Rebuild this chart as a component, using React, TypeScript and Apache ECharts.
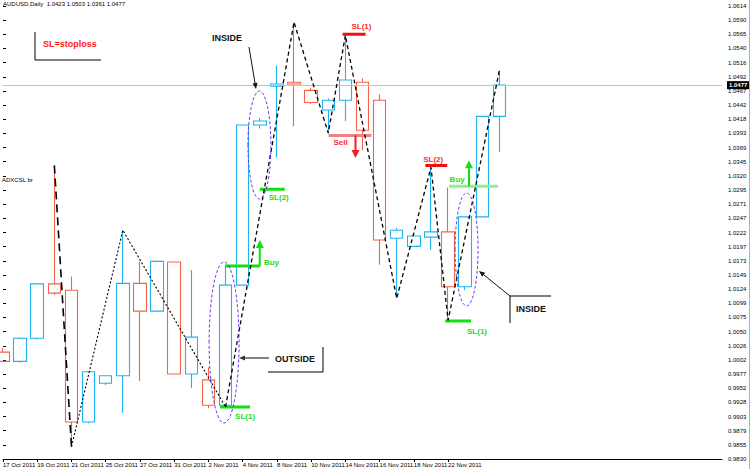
import React, { useEffect, useRef } from 'react';
import * as echarts from 'echarts';

// ---------- DATA ----------
const dates = [
  '17 Oct 2011', '18 Oct 2011', '19 Oct 2011', '20 Oct 2011', '21 Oct 2011',
  '24 Oct 2011', '25 Oct 2011', '26 Oct 2011', '27 Oct 2011', '28 Oct 2011',
  '31 Oct 2011', '1 Nov 2011', '2 Nov 2011', '3 Nov 2011', '4 Nov 2011',
  '7 Nov 2011', '8 Nov 2011', '9 Nov 2011', '10 Nov 2011', '11 Nov 2011',
  '14 Nov 2011', '15 Nov 2011', '16 Nov 2011', '17 Nov 2011', '18 Nov 2011',
  '21 Nov 2011', '22 Nov 2011', '23 Nov 2011', '24 Nov 2011', '25 Nov 2011',
];
const emptySlots = ['', '', '', '', '', '', '', '', '', '', '', '', ''];
const categories = [...dates, ...emptySlots];

// [open, close, low, high]
const candles = [
  [1.0015, 0.9999, 0.9998, 1.0022],
  [0.9999, 1.0039, 0.9997, 1.0041],
  [1.0039, 1.0133, 1.0037, 1.0133],
  [1.0133, 1.0117, 1.0114, 1.0338],
  [1.0122, 0.9894, 0.9851, 1.0146],
  [0.9894, 0.9981, 0.9892, 0.9981],
  [0.9961, 0.9974, 0.9958, 0.9974],
  [0.9974, 1.0134, 0.991, 1.0226],
  [1.0134, 1.0086, 0.9965, 1.0172],
  [1.0086, 1.0172, 1.0086, 1.0172],
  [1.0171, 0.9977, 0.9977, 1.0171],
  [0.9977, 1.0041, 0.9953, 1.0157],
  [0.9967, 0.9923, 0.9918, 0.9989],
  [0.9923, 1.0131, 0.992, 1.0164],
  [1.0131, 1.0408, 1.0131, 1.0408],
  [1.0408, 1.0415, 1.0402, 1.042],
  [1.0475, 1.0479, 1.0352, 1.0511],
  [1.0482, 1.0479, 1.0406, 1.0586],
  [1.0468, 1.0447, 1.0444, 1.0472],
  [1.0434, 1.0451, 1.0394, 1.0454],
  [1.0451, 1.0486, 1.0415, 1.0563],
  [1.0482, 1.0399, 1.0364, 1.0489],
  [1.0451, 1.0209, 1.0166, 1.0461],
  [1.0212, 1.0226, 1.0108, 1.023],
  [1.0198, 1.0216, 1.0198, 1.0216],
  [1.0214, 1.0223, 1.0192, 1.0335],
  [1.0223, 1.0128, 1.007, 1.03],
  [1.0128, 1.0249, 1.0122, 1.0249],
  [1.0249, 1.0423, 1.0249, 1.0423],
  [1.0423, 1.0477, 1.0361, 1.0503],
];

// zigzag pivots: [bar index, price]
const zigzagLong = [[3, 1.0338], [4, 0.9851]];
const zigzagDotted = [[4, 0.9851], [7, 1.0226], [13, 0.992]];
const zigzagDashed = [
  [13, 0.992], [17, 1.0586], [19, 1.0394], [20, 1.0563], [23, 1.0108],
  [25, 1.0335], [26, 1.007], [29, 1.0503],
];

const bidPrice = 1.0477;
const priceMin = 0.983;
const priceMax = 1.0614;
const priceStep = 0.00245;

const titleText = 'AUDUSD,Daily  1.0423 1.0503 1.0361 1.0477';
const indicatorText = 'ADXCSL br';

// trade levels: bar-index span and price
const levelNames = ['SL(1)', 'Buy', 'SL(2)', 'SL(1)', 'Sell', 'SL(2)', 'Buy', 'SL(1)'];
const levelFrom = [12.68, 12.97, 15.0, 19.84, 19.02, 24.67, 26.06, 25.83];
const levelTo = [14.43, 15.0, 16.46, 21.18, 21.52, 25.95, 28.91, 27.34];
const levelPrice = [0.992, 1.0164, 1.0297, 1.0565, 1.039, 1.0338, 1.0302, 1.0069];
const levelKind = ['sl-long', 'buy', 'sl-long', 'sl-short', 'sell', 'sl-short', 'buy2', 'sl-long'];

// label anchors [bar index, price] for each level label
const levelLabelAt = [
  [14.14, 0.99044], [15.24, 1.01709], [16.11, 1.02834], [20.94, 1.05777],
  [19.72, 1.03786], [25.13, 1.03475], [26.53, 1.03129], [27.69, 1.00515],
];

// entry arrows: [bar index, from price, to price]
const entryArrows = [
  [15.0, 1.0164, 1.0209, 'buy'],
  [20.59, 1.039, 1.0351, 'sell'],
  [27.22, 1.0302, 1.0347, 'buy'],
];

// highlighted patterns: [bar from, bar to, price top, price bottom]
const patternBoxes = [
  [12.04, 13.79, 1.01709, 0.98923],
  [14.31, 15.65, 1.04669, 1.028],
  [26.41, 27.75, 1.02904, 1.00948],
];

// ---------- STYLE ----------
const BLUE = '#1eb4f0';
const RED = '#f5644a';
const GREEN = '#11e011';
const FONT = '"Liberation Sans", Arial, sans-serif';

const kindStyle: Record<string, { line: string; text: string; align: string }> = {
  'sl-long': { line: '#10e010', text: '#22dd22', align: 'center' },
  buy: { line: '#10e010', text: '#22dd22', align: 'left' },
  'sl-short': { line: '#ee1111', text: '#ff2a2a', align: 'center' },
  sell: { line: '#f28080', text: '#ff2a2a', align: 'center' },
  buy2: { line: '#8ef08e', text: '#22dd22', align: 'center' },
};

function arrowEls(x1: number, y1: number, x2: number, y2: number, color: string, lw: number, head: number, hw: number) {
  const ang = Math.atan2(y2 - y1, x2 - x1);
  const bx = x2 - head * Math.cos(ang);
  const by = y2 - head * Math.sin(ang);
  const px = -Math.sin(ang) * hw;
  const py = Math.cos(ang) * hw;
  return [
    { type: 'line', silent: true, z: 20, shape: { x1, y1, x2: bx, y2: by }, style: { stroke: color, lineWidth: lw } },
    { type: 'polygon', silent: true, z: 20, shape: { points: [[x2, y2], [bx + px, by + py], [bx - px, by - py]] }, style: { fill: color } },
  ];
}

export default function App() {
  const ref = useRef<HTMLDivElement>(null);

  useEffect(() => {
    document.body.style.margin = '0';
    if (!ref.current) return;
    const chart = echarts.init(ref.current, undefined, { renderer: 'svg' });

    const labelInterval = (i: number) => i % 2 === 0 && i <= 26;

    const levelSeries = levelPrice.map((p, i) => ({
      type: 'line',
      xAxisIndex: 1,
      yAxisIndex: 0,
      data: [[levelFrom[i], p], [levelTo[i], p]],
      symbol: 'none',
      silent: true,
      z: 6,
      lineStyle: { color: kindStyle[levelKind[i]].line, width: 3 },
    }));

    const option: any = {
      animation: false,
      backgroundColor: '#ffffff',
      textStyle: { fontFamily: FONT },
      grid: { left: 0, right: 28, top: 6, bottom: 10, containLabel: false },
      xAxis: [
        {
          type: 'category',
          data: categories,
          boundaryGap: false,
          axisLine: { show: true, lineStyle: { color: '#000', width: 1 } },
          axisTick: { show: true, length: 3, interval: labelInterval, lineStyle: { color: '#000' } },
          axisLabel: { interval: labelInterval, fontSize: 6, color: '#000', align: 'left', margin: 3, fontFamily: FONT },
          splitLine: { show: false },
        },
        { type: 'value', min: 0, max: categories.length - 1, show: false },
      ],
      yAxis: {
        type: 'value',
        position: 'right',
        offset: 5,
        min: priceMin,
        max: priceMax,
        interval: priceStep,
        axisLine: { show: false },
        axisTick: { show: true, length: 3, lineStyle: { color: '#000' } },
        axisLabel: { fontSize: 6, color: '#000', margin: 1, fontFamily: FONT, formatter: (v: number) => v.toFixed(4) },
        splitLine: { show: false },
      },
      series: [
        {
          type: 'candlestick',
          data: candles,
          barWidth: 13,
          itemStyle: { color: 'rgba(0,0,0,0)', color0: 'rgba(0,0,0,0)', borderColor: BLUE, borderColor0: RED, borderWidth: 1.1 },
          markLine: {
            silent: true,
            symbol: 'none',
            precision: 4,
            data: [{ yAxis: bidPrice }],
            lineStyle: { color: '#c2c2c2', type: 'solid', width: 1 },
            label: {
              position: 'end',
              distance: 5,
              formatter: (pm: any) => Number(pm.value).toFixed(4),
              backgroundColor: '#000',
              color: '#fff',
              fontSize: 6,
              fontWeight: 'bold',
              padding: [1, 2],
              fontFamily: FONT,
            },
          },
        },
        {
          type: 'line', xAxisIndex: 1, data: zigzagLong, symbol: 'none', silent: true, z: 8,
          lineStyle: { color: '#000', width: 1.6, type: [8, 5] },
        },
        {
          type: 'line', xAxisIndex: 1, data: zigzagDotted, symbol: 'none', silent: true, z: 8,
          lineStyle: { color: '#000', width: 1.1, type: [2, 2] },
        },
        {
          type: 'line', xAxisIndex: 1, data: zigzagDashed, symbol: 'none', silent: true, z: 8,
          lineStyle: { color: '#000', width: 1.3, type: [4, 3] },
        },
        ...levelSeries,
      ],
    };
    chart.setOption(option);

    const toPx = (x: number, p: number) => chart.convertToPixel({ seriesIndex: 1 }, [x, p]) as number[];
    const g: any[] = [];

    // pattern ellipses
    patternBoxes.forEach(([x0, x1, pTop, pBot]) => {
      const a = toPx(x0, pTop);
      const b = toPx(x1, pBot);
      g.push({
        type: 'ellipse', silent: true, z: 15,
        shape: { cx: (a[0] + b[0]) / 2, cy: (a[1] + b[1]) / 2, rx: Math.abs(b[0] - a[0]) / 2, ry: Math.abs(b[1] - a[1]) / 2 },
        style: { fill: 'none', stroke: '#6b3cf0', lineWidth: 1, lineDash: [3, 2] },
      });
    });

    // level labels
    levelNames.forEach((name, i) => {
      const [lx, lp] = levelLabelAt[i];
      const pt = toPx(lx, lp);
      const st = kindStyle[levelKind[i]];
      g.push({
        type: 'text', silent: true, z: 20, x: pt[0], y: pt[1],
        style: { text: name, fill: st.text, font: `bold 8px ${FONT}`, textAlign: st.align, textVerticalAlign: 'middle' },
      });
    });

    // entry arrows
    entryArrows.forEach(([ax, p0, p1, kind]) => {
      const a = toPx(ax as number, p0 as number);
      const b = toPx(ax as number, p1 as number);
      const col = kind === 'buy' ? GREEN : '#ff1a1a';
      g.push(...arrowEls(a[0], a[1], b[0], b[1], col, 2, 8, 4));
    });

    // callouts (text annotations)
    const textStyle = (t: string, col: string) => ({ text: t, fill: col, font: `bold 9px ${FONT}`, textAlign: 'left', textVerticalAlign: 'middle' });
    g.push({ type: 'text', silent: true, z: 20, x: 212, y: 38, style: textStyle('INSIDE', '#111') });
    g.push(...arrowEls(249, 47, 256, 89, '#111', 1, 6, 2.5));
    g.push({ type: 'text', silent: true, z: 20, x: 275, y: 359, style: textStyle('OUTSIDE', '#111') });
    g.push(...arrowEls(269, 358, 239, 358, '#333', 1.2, 6, 2.5));
    g.push({ type: 'polyline', silent: true, z: 20, shape: { points: [[268, 372], [323, 372], [323, 347]] }, style: { stroke: '#000', lineWidth: 1, fill: 'none' } });
    g.push({ type: 'text', silent: true, z: 20, x: 516, y: 309, style: textStyle('INSIDE', '#111') });
    g.push(...arrowEls(510, 296, 479, 271, '#111', 1, 6, 2.5));
    g.push({ type: 'polyline', silent: true, z: 20, shape: { points: [[510, 323], [510, 296], [551, 296]] }, style: { stroke: '#000', lineWidth: 1, fill: 'none' } });
    g.push({ type: 'text', silent: true, z: 20, x: 43, y: 44, style: textStyle('SL=stoploss', '#ff2020') });
    g.push({ type: 'polyline', silent: true, z: 20, shape: { points: [[35, 32], [35, 60], [101, 60]] }, style: { stroke: '#000', lineWidth: 1, fill: 'none' } });
    g.push({ type: 'text', silent: true, z: 20, x: 3, y: 4, style: { text: titleText, fill: '#000', font: `6px ${FONT}`, textAlign: 'left', textVerticalAlign: 'middle' } });
    g.push({ type: 'text', silent: true, z: 20, x: 2, y: 180, style: { text: indicatorText, fill: '#000', font: `6px ${FONT}`, textAlign: 'left', textVerticalAlign: 'middle' } });
    g.push({ type: 'line', silent: true, z: 20, shape: { x1: 749.5, y1: 0, x2: 749.5, y2: 469 }, style: { stroke: '#b0b0b0', lineWidth: 1 } });

    chart.setOption({ graphic: g });

    return () => chart.dispose();
  }, []);

  return <div ref={ref} style={{ width: 750, height: 469 }} />;
}
